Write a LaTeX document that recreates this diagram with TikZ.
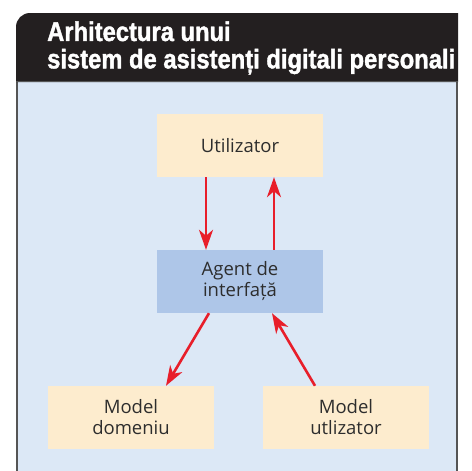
\documentclass[tikz,border=0pt]{standalone}
\usepackage{fontspec}
\usepackage{graphicx}
\setmainfont{Open Sans}
\newfontfamily\titlefont[FakeBold=1.6]{Liberation Sans Bold}
\usetikzlibrary{arrows.meta}
\definecolor{bgblue}{RGB}{220,232,246}
\definecolor{peach}{RGB}{253,236,206}
\definecolor{agentblue}{RGB}{174,198,232}
\definecolor{arrred}{RGB}{232,30,42}
\definecolor{framegray}{RGB}{85,85,85}
\definecolor{hdrblack}{RGB}{35,31,32}
\definecolor{txtgray}{RGB}{45,45,45}
\tikzset{
  box/.style={minimum width=166pt, minimum height=63pt, inner sep=0pt, align=center,
    font=\fontsize{18.5}{21}\selectfont, text=txtgray},
  peachbox/.style={box, fill=peach},
  agentbox/.style={box, fill=agentblue},
  arr/.style={draw=arrred, line width=2.6pt, -{Stealth[length=20pt,width=14pt,inset=6pt]}},
  frameline/.style={draw=framegray, line width=2.2pt}
}
\begin{document}
\begin{tikzpicture}[x=1pt,y=-1pt]
\useasboundingbox (0,0) rectangle (472,471);
% background panel
\fill[bgblue] (17,81) rectangle (457,472);
\draw[frameline] (17,81) -- (17,472);
\draw[frameline] (457,81) -- (457,472);
% header
\fill[hdrblack] (16,82) [rounded corners=14pt] -- (16,13) [sharp corners] -- (458.2,13) -- (458.2,82) -- cycle;
\draw[draw=framegray, line width=1.2pt] (16,81.5) -- (458.2,81.5);
\node[anchor=base west, inner sep=0pt, text=white] (title) at (47,41)
  {\resizebox{408pt}{\height}{\titlefont\fontsize{27}{26}\selectfont
   \begin{tabular}[t]{@{}l@{}}Arhitectura unui\\sistem de asisten\char"021B{}i digitali personali\end{tabular}}};
% nodes
\node[peachbox] (u) at (240,145.5) {Utilizator};
\node[agentbox] (ag) at (240,281.5) {Agent de\\interfa\char"021B\char"0103};
\node[peachbox] (md) at (131,417.5) {Model\\domeniu};
\node[peachbox] (mu) at (346,417.5) {Model\\utlizator};
% connectors
\draw[arr] ([xshift=-34pt]u.south) -- ([xshift=-34pt]ag.north);
\draw[arr] ([xshift=34pt]ag.north) -- ([xshift=34pt]u.south);
\draw[arr] ([xshift=-31pt]ag.south) -- ([xshift=35pt]md.north);
\draw[arr] ([xshift=-31pt]mu.north) -- ([xshift=32pt]ag.south);
\end{tikzpicture}
\end{document}
